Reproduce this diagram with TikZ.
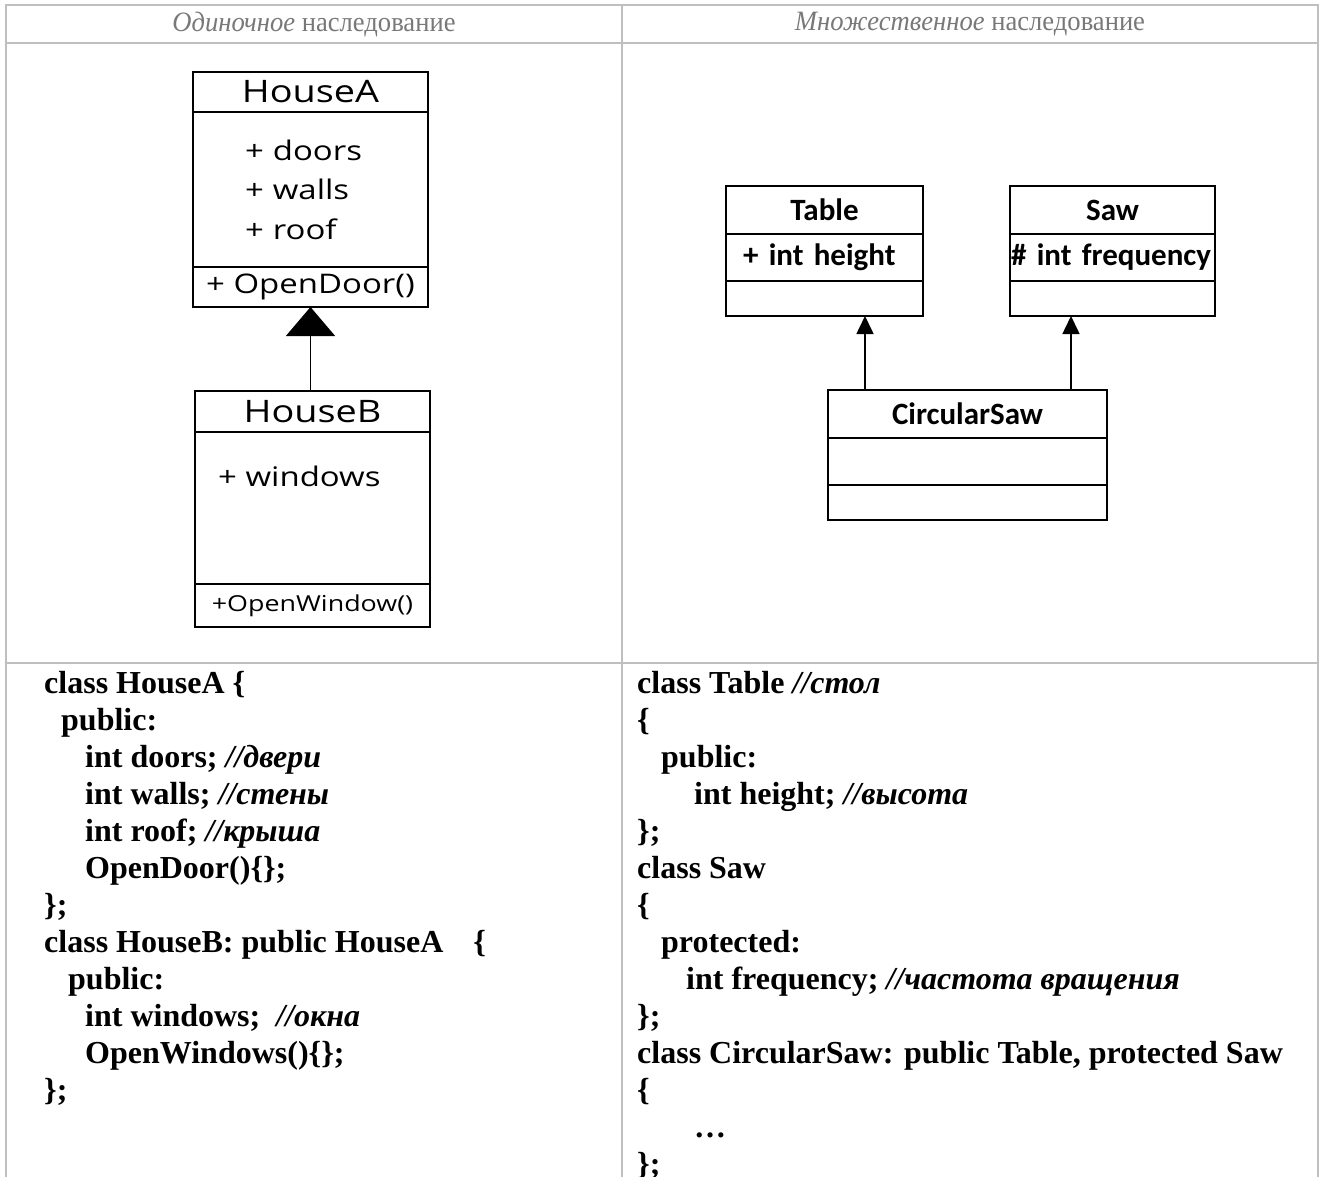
\documentclass[tikz,border=0pt]{standalone}
\usepackage{fontspec}
\usetikzlibrary{positioning,arrows.meta}
\newfontfamily\headfont{Liberation Serif}[FakeStretch=0.95]
\newfontfamily\codefont{Liberation Serif}
\newfontfamily\umlfont{Open Sans}[FakeStretch=1.22]
\newfontfamily\calfont{Carlito}
\definecolor{gridgray}{RGB}{191,191,191}
\definecolor{headgray}{RGB}{120,120,120}
\newcommand{\cmt}[1]{\textit{#1}}

\begin{document}
\begin{tikzpicture}[x=1pt, y=-1pt,
    cell/.style={rectangle, draw=gridgray, line width=2pt, inner sep=0pt, outer sep=0pt},
    head/.style={cell, minimum height=38pt, text=headgray, font=\headfont\fontsize{28}{32}\selectfont},
    comp/.style={rectangle, draw=black, line width=1.6pt, inner sep=0pt, outer sep=0pt},
    housebox/.style={comp, minimum width=235pt, font=\umlfont\fontsize{27}{39.5}\selectfont},
    sawbox/.style={comp, font=\calfont\bfseries\fontsize{31}{36}\selectfont},
    gen/.style={line width=1.6pt, -{Triangle[width=17pt,length=18pt]}},
    code/.style={anchor=base west, inner sep=0pt, font=\codefont\bfseries\fontsize{32}{37}\selectfont}]
  \useasboundingbox (0,0) rectangle (1323,1176);
  % table frame
  \node[head, minimum width=616pt] (headL) at (314,24) {\textit{Одиночное} наследование};
  \node[head, minimum width=696pt, right=0pt of headL] (headR) {\textit{Множественное} наследование};
  \node[cell, minimum width=616pt, minimum height=620pt, below=0pt of headL] (diagL) {};
  \node[cell, minimum width=696pt, minimum height=620pt, below=0pt of headR] (diagR) {};
  \node[cell, minimum width=616pt, minimum height=540pt, below=0pt of diagL] (codeL) {};
  \node[cell, minimum width=696pt, minimum height=540pt, below=0pt of diagR] (codeR) {};
  % single inheritance
  \node[housebox, minimum height=40pt, font=\umlfont\fontsize{31}{36}\selectfont] (houseA) at (310.5,92) {HouseA};
  \node[housebox, minimum height=155pt, below=0pt of houseA, align=left, text width=131pt, inner xsep=52pt] (houseA-attr) {+ doors\\+ walls\\+ roof};
  \node[housebox, minimum height=40pt, below=0pt of houseA-attr] (houseA-ops) {+ OpenDoor()};
  \node[housebox, minimum height=41pt, font=\umlfont\fontsize{31}{36}\selectfont] (houseB) at (312.5,411.5) {HouseB};
  \node[housebox, minimum height=152pt, below=0pt of houseB] (houseB-attr) {};
  \node[housebox, minimum height=43pt, below=0pt of houseB-attr, font=\umlfont\fontsize{22}{26}\selectfont] (houseB-ops) {+OpenWindow()};
  \node[anchor=west, inner sep=0pt, font=\umlfont\fontsize{27}{32}\selectfont] (houseB-win) at ([xshift=23pt,yshift=-44pt]houseB-attr.north west) {+ windows};
  \draw[line width=1.6pt, -{Triangle[width=49pt,length=29pt]}] (houseB.north -| houseA-ops) -- (houseA-ops.south);
  % multiple inheritance
  \node[sawbox, minimum width=197pt, minimum height=48pt] (table) at (824.5,210) {Table};
  \node[sawbox, minimum width=197pt, minimum height=47pt, below=0pt of table, align=left, text width=163pt, inner xsep=17pt] (table-attr) {+ int height};
  \node[sawbox, minimum width=197pt, minimum height=35pt, below=0pt of table-attr] (table-ops) {};
  \node[sawbox, minimum width=205pt, minimum height=48pt] (saw) at (1112.5,210) {Saw};
  \node[sawbox, minimum width=205pt, minimum height=47pt, below=0pt of saw, align=left, text width=203pt, inner xsep=1pt] (saw-attr) {\# int frequency};
  \node[sawbox, minimum width=205pt, minimum height=35pt, below=0pt of saw-attr] (saw-ops) {};
  \node[sawbox, minimum width=279pt, minimum height=48pt] (circ) at (967.5,414) {CircularSaw};
  \node[sawbox, minimum width=279pt, minimum height=47pt, below=0pt of circ] (circ-attr) {};
  \node[sawbox, minimum width=279pt, minimum height=35pt, below=0pt of circ-attr] (circ-ops) {};
  \coordinate (circ-l) at ([xshift=37pt]circ.north west);
  \coordinate (circ-r) at ([xshift=-36pt]circ.north east);
  \draw[gen] (circ-l) -- (circ-l |- table-ops.south);
  \draw[gen] (circ-r) -- (circ-r |- saw-ops.south);
  % code
  \foreach \dx/\txt [count=\i from 0] in {0/{class HouseA \{}, 17/{public:},
      41/{int doors; \cmt{//двери}}, 41/{int walls; \cmt{//стены}}, 41/{int roof; \cmt{//крыша}},
      41/{OpenDoor()\{\};}, 0/{\};}, 0/{class HouseB: public HouseA\hspace*{30pt}\{},
      24/{public:}, 41/{int windows;\ \ \cmt{//окна}}, 41/{OpenWindows()\{\};}, 0/{\};}}
    \node[code] (codeA-\i) at (44+\dx, 693+37*\i) {\txt};
  \foreach \dx/\txt [count=\i from 0] in {0/{class Table \cmt{//стол}}, 0/{\{}, 24/{public:},
      57/{int height; \cmt{//высота}}, 0/{\};}, 0/{class Saw}, 0/{\{}, 24/{protected:},
      49/{int frequency; \cmt{//частота вращения}}, 0/{\};},
      0/{class CircularSaw: public Table, protected Saw}, 0/{\{}, 57/{…}, 0/{\};}}
    \node[code] (codeB-\i) at (637+\dx, 693+37*\i) {\txt};
\end{tikzpicture}
\end{document}
